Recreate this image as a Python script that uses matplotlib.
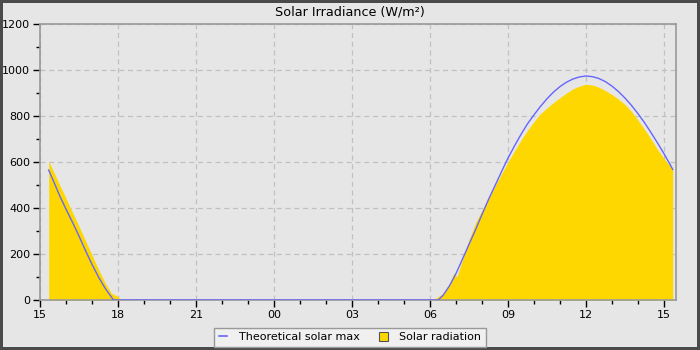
import matplotlib
matplotlib.use("Agg")
import matplotlib.pyplot as plt
from matplotlib.lines import Line2D
from matplotlib.patches import Patch
from matplotlib.ticker import MultipleLocator, FixedLocator

# ---- data ----
title = "Solar Irradiance (W/m²)"
x_tick_labels = ["15", "18", "21", "00", "03", "06", "09", "12", "15"]

theo_times_pm = ["15:20", "15:30", "15:45", "16:00", "16:15", "16:30", "16:45",
                 "17:00", "17:15", "17:30", "17:45", "17:50"]
theo_values_pm = [565, 522, 455, 395, 338, 278, 215, 155, 100, 52, 12, 0]

theo_times_am = ["06:19", "06:30", "06:45", "07:00", "07:15", "07:30", "07:45",
                 "08:00", "08:15", "08:30", "08:45", "09:00", "09:15", "09:30",
                 "09:45", "10:00", "10:15", "10:30", "10:45", "11:00", "11:15",
                 "11:30", "11:45", "12:00", "12:15", "12:30", "12:45", "13:00",
                 "13:15", "13:30", "13:45", "14:00", "14:15", "14:30", "14:45",
                 "15:00", "15:15", "15:20"]
theo_values_am = [0, 20, 62, 115, 178, 242, 305, 372, 437, 497, 558, 617, 670,
                  720, 766, 805, 842, 875, 904, 928, 947, 961, 970, 974, 971,
                  963, 949, 930, 906, 878, 846, 810, 771, 728, 683, 636, 586, 568]

solar_times_pm = ["15:20", "15:30", "15:45", "16:00", "16:15", "16:30", "16:45",
                  "17:00", "17:15", "17:30", "17:45", "18:00", "18:06"]
solar_values_pm = [604, 563, 502, 442, 381, 320, 258, 195, 133, 75, 29, 15, 0]

solar_times_am = ["06:03", "06:15", "06:30", "06:45", "06:55", "07:02", "07:15",
                  "07:30", "07:45", "08:00", "08:15", "08:30", "08:45", "09:00",
                  "09:15", "09:30", "09:45", "10:00", "10:15", "10:30", "10:45",
                  "11:00", "11:15", "11:30", "11:45", "12:00", "12:15", "12:30",
                  "12:45", "13:00", "13:15", "13:30", "13:45", "14:00", "14:15",
                  "14:30", "14:45", "15:00", "15:15", "15:20"]
solar_values_am = [0, 10, 28, 70, 118, 100, 175, 262, 335, 390, 440, 495, 548,
                   600, 648, 695, 738, 775, 810, 835, 858, 880, 900, 918, 930,
                   938, 935, 925, 910, 893, 873, 850, 820, 782, 742, 700, 655,
                   615, 580, 570]


def to_hours(times, next_day):
    out = []
    for t in times:
        h, m = t.split(":")
        v = int(h) + int(m) / 60.0 - 15.0
        if next_day:
            v += 24.0
        out.append(v)
    return out


theo_x = to_hours(theo_times_pm, False) + to_hours(theo_times_am, True)
theo_y = theo_values_pm + theo_values_am
solar_x = to_hours(solar_times_pm, False) + to_hours(solar_times_am, True)
solar_y = solar_values_pm + solar_values_am

# ---- figure ----
bg = "#e6e6e6"
fig = plt.figure(figsize=(7, 3.5), dpi=100, facecolor=bg)
fig.patch.set_edgecolor("#4a4a4a")
fig.patch.set_linewidth(4)
ax = fig.add_axes([40 / 700, 50 / 350, 636 / 700, 276 / 350], facecolor=bg)

ax.fill_between(solar_x, solar_y, 0, color="#ffd700", linewidth=0, zorder=2)
ax.plot(theo_x, theo_y, color="#6666ff", linewidth=1.0, zorder=3)

ax.set_xlim(0, 636 / 26)
ax.set_ylim(0, 1200)
ax.xaxis.set_major_locator(FixedLocator([3 * i for i in range(len(x_tick_labels))]))
ax.set_xticklabels(x_tick_labels)
ax.xaxis.set_minor_locator(MultipleLocator(1))
ax.yaxis.set_major_locator(MultipleLocator(200))
ax.yaxis.set_minor_locator(MultipleLocator(100))

ax.grid(True, which="major", linestyle=(0, (4, 3)), color="#c0c0c0", linewidth=0.9, zorder=1)
ax.set_axisbelow(True)
for s in ax.spines.values():
    s.set_color("#999999")
    s.set_linewidth(1.2)
ax.tick_params(which="major", length=5, width=1, color="black", labelsize=8, pad=2)
ax.tick_params(which="minor", length=3, width=1, color="black")

fig.text(0.5, 1 - 12 / 350, title, fontsize=9.2, ha="center", va="center")

handles = [Line2D([0], [0], color="#6666ff", linewidth=1.2),
           Patch(facecolor="#ffd700", edgecolor="#555555", linewidth=0.8)]
leg = fig.legend(handles, ["Theoretical solar max", "Solar radiation"],
                 loc="lower center", bbox_to_anchor=(0.5, 0.0), ncol=2,
                 fontsize=8, frameon=True, fancybox=False, handlelength=0.8,
                 handleheight=0.8, columnspacing=1.8, borderpad=0.4,
                 handletextpad=1.0, borderaxespad=0.3)
leg.get_frame().set_facecolor("#f0f0f0")
leg.get_frame().set_edgecolor("#999999")
leg.get_frame().set_alpha(1)

fig.savefig("out.png", dpi=100, facecolor=bg, edgecolor=fig.patch.get_edgecolor())
